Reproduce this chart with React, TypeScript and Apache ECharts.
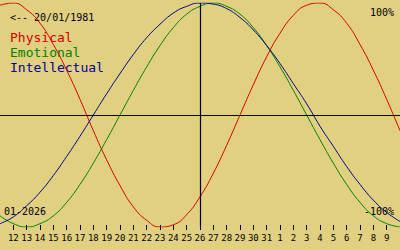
import React, { useEffect, useRef } from "react";
import * as echarts from "echarts";

// Day-of-month labels for each plotted day (Jan 11 .. Feb 10, 2026)
const days = ["11","12","13","14","15","16","17","18","19","20","21","22","23","24","25","26","27","28","29","30","31","1","2","3","4","5","6","7","8","9","10"];
// Biorhythm values in percent
const physical = [98, 100, 94, 82, 63, 40, 14, -14, -40, -63, -82, -94, -100, -98, -89, -73, -52, -27, 0, 27, 52, 73, 89, 98, 100, 94, 82, 63, 40, 14, -14];
const emotional = [-90, -97, -100, -97, -90, -78, -62, -43, -22, 0, 22, 43, 62, 78, 90, 97, 100, 97, 90, 78, 62, 43, 22, 0, -22, -43, -62, -78, -90, -97, -100];
const intellectual = [-97, -91, -81, -69, -54, -37, -19, 0, 19, 37, 54, 69, 81, 91, 97, 100, 99, 95, 87, 76, 62, 46, 28, 10, -10, -28, -46, -62, -76, -87, -95];
const todayIndex = 15;
const legendNames = ["Physical", "Emotional", "Intellectual"];
const colors = ["#d80000", "#008000", "#000090"];
const birthLabel = "<-- 20/01/1981";
const monthLabel = "01-2026";
const topLabel = "100%";
const bottomLabel = "-100%";

const MONO = "'DejaVu Sans Mono', 'Liberation Mono', monospace";

export default function App() {
  const ref = useRef<HTMLDivElement>(null);
  useEffect(() => {
    if (!ref.current) return;
    const chart = echarts.init(ref.current, null, { renderer: "svg" });
    const series = [physical, emotional, intellectual].map((d, i) => ({
      name: legendNames[i],
      type: "line",
      data: d,
      smooth: true,
      symbol: "none",
      lineStyle: { color: colors[i], width: 1 },
      z: 3 + i,
    }));
    (series[0] as any).markLine = {
      silent: true,
      symbol: "none",
      label: { show: false },
      lineStyle: { color: "#000", width: 1.2, type: "solid" },
      data: [{ xAxis: todayIndex }, { yAxis: 0 }],
    };
    chart.setOption({
      animation: false,
      backgroundColor: "#e0d080",
      grid: { left: 0, right: 0, top: 3, bottom: 23 },
      xAxis: {
        type: "category",
        data: days,
        boundaryGap: false,
        offset: -2,
        axisLine: { show: false, onZero: false },
        axisTick: {
          show: true,
          length: 5,
          interval: (i: number) => i > 0 && i < days.length - 1,
          lineStyle: { color: "#000", width: 1 },
        },
        axisLabel: {
          interval: (i: number) => i > 0 && i < days.length - 1,
          margin: 8,
          color: "#000",
          fontFamily: MONO,
          fontSize: 9,
        },
        splitLine: { show: false },
      },
      yAxis: {
        type: "value",
        min: -100,
        max: 100,
        show: false,
        splitLine: { show: false },
      },
      series,
      graphic: [
        { type: "text", left: 10, top: 12, style: { text: birthLabel, fill: "#000", font: `10px ${MONO}` } },
        { type: "text", left: 10, top: 31, style: { text: legendNames[0], fill: colors[0], font: `13px ${MONO}` } },
        { type: "text", left: 10, top: 46, style: { text: legendNames[1], fill: colors[1], font: `13px ${MONO}` } },
        { type: "text", left: 10, top: 61, style: { text: legendNames[2], fill: colors[2], font: `13px ${MONO}` } },
        { type: "text", right: 6, top: 7, style: { text: topLabel, fill: "#000", font: `10px ${MONO}` } },
        { type: "text", left: 4, top: 206, style: { text: monthLabel, fill: "#000", font: `10px ${MONO}` } },
        { type: "text", right: 6, top: 206, style: { text: bottomLabel, fill: "#000", font: `10px ${MONO}` } },
      ],
    });
    return () => chart.dispose();
  }, []);
  return (
    <div
      ref={ref}
      style={{ position: "fixed", left: 0, top: 0, width: 400, height: 250 }}
    />
  );
}
